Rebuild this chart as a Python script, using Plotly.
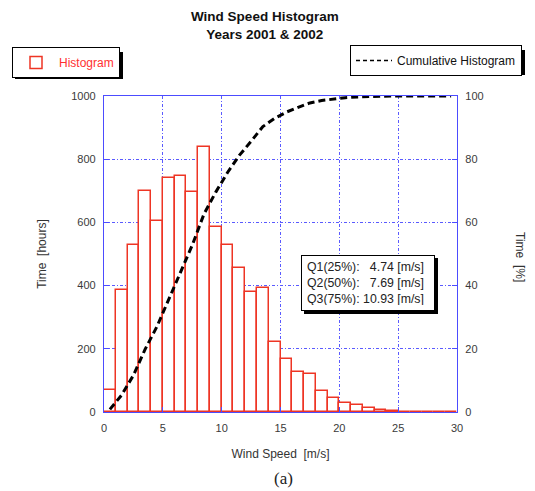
import numpy as np
import plotly.graph_objects as go

# Hourly wind-speed histogram, 1 m/s bins from 0 to 30 m/s
bin_left = list(range(30))
hours = [70, 385, 530, 700, 605, 740, 748, 695, 838, 585,
         527, 457, 379, 393, 220, 169, 127, 119, 65, 44,
         30, 22, 14, 6, 4, 1, 0, 0, 0, 0]

quartile_labels = ["Q1(25%)", "Q2(50%)", "Q3(75%)"]
quartile_values = [4.74, 7.69, 10.93]

x_ticks = [0, 5, 10, 15, 20, 25, 30]
y_ticks = [0, 200, 400, 600, 800, 1000]
pct_ticks = [0, 20, 40, 60, 80, 100]

bin_center = np.array(bin_left) + 0.5
cum_pct = np.cumsum(hours) / np.sum(hours) * 100.0

W, H = 535, 491
L, R, T, B = 104, 78, 96, 79
PW, PH = W - L - R, H - T - B


def px_x(p):
    return (p - L) / PW


def px_y(p):
    return (H - B - p) / PH


BLUE = "#4c4cff"
GRID = "#5a5aff"
RED = "#ee3524"
FAMILY = "Liberation Sans, Arial, sans-serif"
TICKFONT = dict(family=FAMILY, size=11, color="#3a3a3a")

fig = go.Figure()

fig.add_trace(go.Bar(
    x=bin_center, y=hours, width=1,
    marker=dict(color="white", line=dict(color=RED, width=1.5)),
    name="Histogram", legend="legend", showlegend=True,
))

fig.add_trace(go.Scatter(
    x=bin_center, y=cum_pct, yaxis="y2", mode="lines",
    line=dict(color="black", width=3, dash="7px,4px"),
    name="Cumulative Histogram", showlegend=False,
))

# legend entry for the cumulative curve (thin dashes)
fig.add_trace(go.Scatter(
    x=[None], y=[None], yaxis="y2", mode="lines",
    line=dict(color="black", width=1.5, dash="4px,3px"),
    name="Cumulative Histogram", legend="legend2", showlegend=True,
))

axis_common = dict(
    showline=True, linecolor=BLUE, linewidth=1.3,
    ticks="inside", ticklen=5, tickcolor=BLUE, tickwidth=1.2,
    tickfont=TICKFONT, zeroline=False,
)

fig.update_layout(
    width=W, height=H, autosize=False,
    margin=dict(l=L, r=R, t=T, b=B),
    paper_bgcolor="white", plot_bgcolor="white",
    bargap=0,
    font=dict(family=FAMILY, size=12, color="#333"),
    xaxis=dict(
        range=[0, 30], tickvals=x_ticks, mirror=True, ticklabelstandoff=6,
        showgrid=True, gridcolor=GRID, griddash="3px,2px,1px,2px", gridwidth=1,
        title=dict(text="Wind Speed  [m/s]", standoff=16,
                   font=dict(size=12, color="#333")),
        **axis_common,
    ),
    yaxis=dict(
        range=[0, 1000], tickvals=y_ticks, ticklabelstandoff=5,
        showgrid=True, gridcolor=GRID, griddash="3px,2px,1px,2px", gridwidth=1,
        title=dict(text="Time  [hours]", standoff=21,
                   font=dict(size=12, color="#333")),
        **axis_common,
    ),
    yaxis2=dict(
        range=[0, 100], tickvals=pct_ticks, overlaying="y", side="right",
        showgrid=False, ticklabelstandoff=5,
        **axis_common,
    ),
    legend=dict(
        x=px_x(12), y=px_y(47), xanchor="left", yanchor="top",
        bgcolor="white", bordercolor="black", borderwidth=1,
        font=dict(size=12, color="#ff3030"),
        itemwidth=36,
    ),
    legend2=dict(
        x=px_x(522), y=px_y(45), xanchor="right", yanchor="top",
        bgcolor="white", bordercolor="black", borderwidth=1,
        font=dict(size=12, color="#111"),
        itemwidth=36,
    ),
)

# chart title
fig.add_annotation(
    text="<b>Wind Speed Histogram<br>Years 2001 & 2002</b>",
    xref="paper", yref="paper", x=px_x(265), y=px_y(7),
    xanchor="center", yanchor="top", showarrow=False,
    font=dict(family=FAMILY, size=13.5, color="#111"),
)

# quartile text box (outer size 134 x 56 px)
lines = []
for lab, v in zip(quartile_labels, quartile_values):
    s = f"{v:.2f}"
    pad = "\u00a0\u00a0" * (5 - len(s))
    lines.append(f"{lab}:\u00a0{pad}{s} [m/s]")

fig.add_annotation(
    text="<br>".join(lines), xref="paper", yref="paper",
    x=px_x(301), y=px_y(255), xanchor="left", yanchor="top",
    showarrow=False, align="left", width=122, height=44,
    bgcolor="white", bordercolor="black", borderwidth=1, borderpad=5,
    font=dict(size=12.3, color="#222"),
)

# drop shadows behind the boxes
for x0, y0, x1, y1 in [(301, 255, 435, 311), (12, 49, 120, 76), (350, 47, 522, 72)]:
    fig.add_shape(type="rect", xref="paper", yref="paper",
                  x0=px_x(x0 + 3), x1=px_x(x1 + 3), y0=px_y(y0 + 3), y1=px_y(y1 + 3),
                  fillcolor="black", line=dict(width=0), layer="above")

fig.add_annotation(
    text="Time  [%]", xref="paper", yref="paper",
    x=px_x(520), y=px_y(257), xanchor="center", yanchor="middle",
    textangle=90, showarrow=False,
    font=dict(size=12, color="#333"),
)

fig.add_annotation(
    text="(a)", xref="paper", yref="paper",
    x=px_x(283), y=px_y(478), xanchor="center", yanchor="middle",
    showarrow=False,
    font=dict(family="Liberation Serif, Times New Roman, serif", size=17, color="#222"),
)

fig.write_html("out.html")
